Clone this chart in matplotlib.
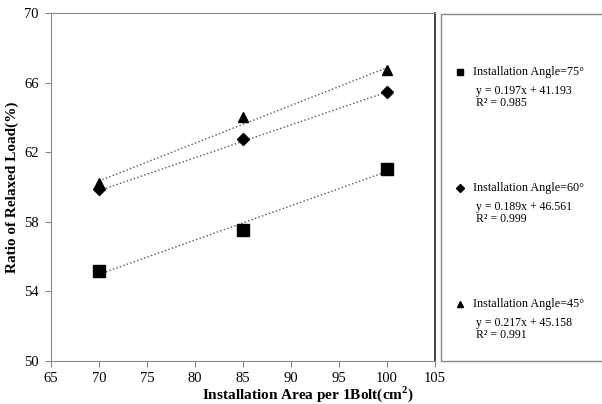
import matplotlib.pyplot as plt
from matplotlib.lines import Line2D
from matplotlib.patches import Rectangle
import numpy as np

plt.rcParams['font.family'] = ['Liberation Serif', 'DejaVu Serif']

# ---------------- Data ----------------
area = [70, 85, 100]
angles = ['75', '60', '45']
relaxed = {
    '75': [55.17, 57.50, 61.03],
    '60': [59.87, 62.78, 65.48],
    '45': [60.25, 64.00, 66.72],
}
slopes = {'75': 0.197, '60': 0.189, '45': 0.217}
intercepts = {'75': 41.193, '60': 46.561, '45': 45.158}
r2 = {'75': 0.985, '60': 0.999, '45': 0.991}

markers = {'75': 's', '60': 'D', '45': '^'}
msizes = {'75': 8, '60': 6.5, '45': 7.5}
legend_msizes = {'75': 5, '60': 4, '45': 5}

# ---------------- Plot ----------------
fig = plt.figure(figsize=(6.02, 4.04), dpi=100)
ax = fig.add_axes([51 / 602, 43 / 404, 384 / 602, 348 / 404])

for a in angles:
    x = np.array(area)
    ax.plot(area, relaxed[a], linestyle='none', marker=markers[a],
            markersize=msizes[a], color='black', zorder=3)
    # linear trend line from the fitted equation
    ax.plot(x, slopes[a] * x + intercepts[a], linestyle=':', color='#555555',
            linewidth=1.0, zorder=2)

ax.set_xlim(65, 105)
ax.set_ylim(50, 70)
ax.set_xticks(range(65, 106, 5))
ax.set_yticks(range(50, 71, 4))
ax.tick_params(direction='out', length=4, color='#888888', labelsize=10.5)
ax.tick_params(axis='y', pad=5)
ax.tick_params(axis='x', pad=4)

for side in ['left', 'bottom', 'top']:
    ax.spines[side].set_color('#888888')
ax.spines['right'].set_color('#222222')
ax.spines['right'].set_linewidth(1.2)

ax.set_xlabel('Installation Area per 1Bolt(cm$^\\mathregular{2}$)',
              fontsize=11, fontweight='bold')
ax.xaxis.set_label_coords(0.67, -0.068)
ax.set_ylabel('Ratio of Relaxed Load(%)', fontsize=11, fontweight='bold')
ax.yaxis.set_label_coords(-0.083, 0.5)

# ---------------- Side panel with fit equations ----------------
fig.add_artist(Rectangle((441 / 602, 43 / 404), 200 / 602, 347 / 404,
                         transform=fig.transFigure, fill=False,
                         edgecolor='#888888', linewidth=1.0))

entry_y = {'75': 72, '60': 188, '45': 304}
for a in angles:
    y0 = entry_y[a]
    fig.add_artist(Line2D([460 / 602], [1 - y0 / 404], marker=markers[a],
                          markersize=legend_msizes[a], color='black',
                          transform=fig.transFigure))
    fig.text(473 / 602, 1 - y0 / 404, f'Installation Angle={a}°',
             fontsize=8.7, va='center', ha='left')
    fig.text(476 / 602, 1 - (y0 + 19) / 404,
             f'y = {slopes[a]:.3f}x + {intercepts[a]:.3f}',
             fontsize=8.5, va='center', ha='left')
    fig.text(476 / 602, 1 - (y0 + 31) / 404, f'R² = {r2[a]:.3f}',
             fontsize=8.5, va='center', ha='left')

fig.savefig('out.png', dpi=100)
